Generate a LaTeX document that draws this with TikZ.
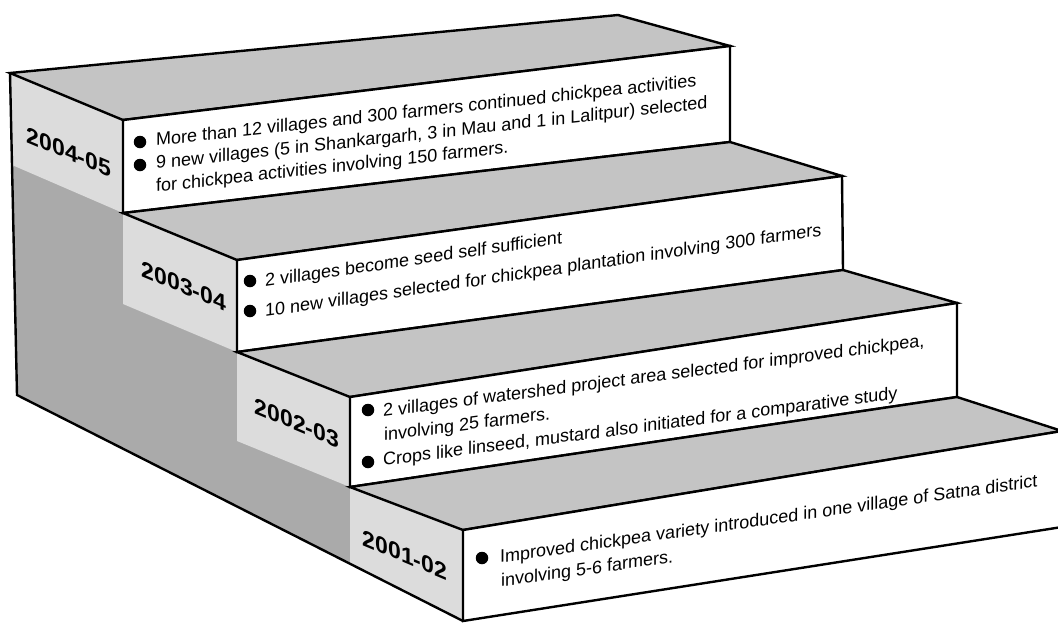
\documentclass[tikz,border=0pt]{standalone}
\usepackage{fontspec}
\setmainfont{Liberation Sans}
\definecolor{treadgray}{HTML}{C4C4C4}
\definecolor{wallgray}{HTML}{AAAAAA}
\definecolor{facegray}{HTML}{DCDCDC}
\begin{document}
\begin{tikzpicture}[x=1pt,y=-1pt,
  edge/.style={line width=2.4pt, line join=miter, draw=black},
  tread/.style={fill=treadgray},
  front/.style={fill=white},
  txt/.style={font=\fontsize{18}{22}\selectfont, anchor=base west, inner sep=0pt},
  year/.style={font=\bfseries\fontsize{23}{23}\selectfont, yslant=-0.42, inner sep=0pt, anchor=center},
  dot/.style={circle, fill=black, minimum size=12.5pt, inner sep=0pt}]
\clip (0,0) rectangle (1058,622);
% corners
\coordinate (k4) at (10,73);
\coordinate (r4) at (618,15);
\coordinate (a4) at (123,120);
\coordinate (b4) at (730,46);
\coordinate (c4) at (730,142);
\coordinate (d4) at (123,213);
\coordinate (a3) at (237,260);
\coordinate (b3) at (842,176);
\coordinate (c3) at (843,270);
\coordinate (d3) at (237,352);
\coordinate (a2) at (350,397);
\coordinate (b2) at (957,303);
\coordinate (c2) at (957,397);
\coordinate (d2) at (350,487);
\coordinate (a1) at (463,530);
\coordinate (b1) at (1062,431);
\coordinate (c1) at (1062,527);
\coordinate (d1) at (463,621);
\coordinate (foot) at (17,395);
% side wall
\fill[wallgray] (k4) -- (a4) -- (d4) -- (a3) -- (d3) -- (a2) -- (d2) -- (a1) -- (d1) -- (foot) -- cycle;
% left faces
\fill[facegray] (k4) -- (a4) -- (d4) -- (12,165) -- cycle;
\fill[facegray] (d4) -- (a3) -- (d3) -- (123,304) -- cycle;
\fill[facegray] (d3) -- (a2) -- (d2) -- (237,441) -- cycle;
\fill[facegray] (d2) -- (a1) -- (d1) -- (350,565) -- cycle;
% outer outline
\draw[edge] (k4) -- (foot) -- (d1);
% treads and fronts
\draw[edge, tread] (k4) -- (r4) -- (b4) -- (a4) -- cycle;
\draw[edge, front] (a4) -- (b4) -- (c4) -- (d4) -- cycle;
\draw[edge, tread] (d4) -- (c4) -- (b3) -- (a3) -- cycle;
\draw[edge, front] (a3) -- (b3) -- (c3) -- (d3) -- cycle;
\draw[edge, tread] (d3) -- (c3) -- (b2) -- (a2) -- cycle;
\draw[edge, front] (a2) -- (b2) -- (c2) -- (d2) -- cycle;
\draw[edge, tread] (d2) -- (c2) -- (b1) -- (a1) -- cycle;
\draw[edge, front] (a1) -- (b1) -- (c1) -- (d1) -- cycle;
% year labels
\node[year] (y4) at (69,152) {2004-05};
\node[year] (y3) at (184,286) {2003-04};
\node[year] (y2) at (297,423) {2002-03};
\node[year] (y1) at (405,555) {2001-02};
% step 4 text
\node[dot] (p41) at (140,142) {};
\node[dot] (p42) at (140,165) {};
\node[txt, yslant=0.110] (t41) at (156,146) {More than 12 villages and 300 farmers continued chickpea activities};
\node[txt, yslant=0.110] (t42) at (156,169) {9 new villages (5 in Shankargarh, 3 in Mau and 1 in Lalitpur) selected};
\node[txt, yslant=0.110] (t43) at (156,192) {for chickpea activities involving 150 farmers.};
% step 3 text
\node[dot] (p31) at (250,281) {};
\node[dot] (p32) at (250,311) {};
\node[txt, yslant=0.146] (t31) at (265,287) {2 villages become seed self sufficient};
\node[txt, yslant=0.146] (t32) at (265,317) {10 new villages selected for chickpea plantation involving 300 farmers};
% step 2 text
\node[dot] (p21) at (368,410) {};
\node[dot] (p22) at (368,462) {};
\node[txt, yslant=0.130] (t21) at (383,417) {2 villages of watershed project area selected for improved chickpea,};
\node[txt, yslant=0.130] (t22) at (384,441) {involving 25 farmers.};
\node[txt, yslant=0.130] (t23) at (383,466) {Crops like linseed, mustard also initiated for a comparative study};
% step 1 text
\node[dot] (p11) at (482,558) {};
\node[txt, yslant=0.142] (t11) at (500,563) {Improved chickpea variety introduced in one village of Satna district};
\node[txt, yslant=0.142] (t12) at (501,587) {involving 5-6 farmers.};
\end{tikzpicture}
\end{document}
